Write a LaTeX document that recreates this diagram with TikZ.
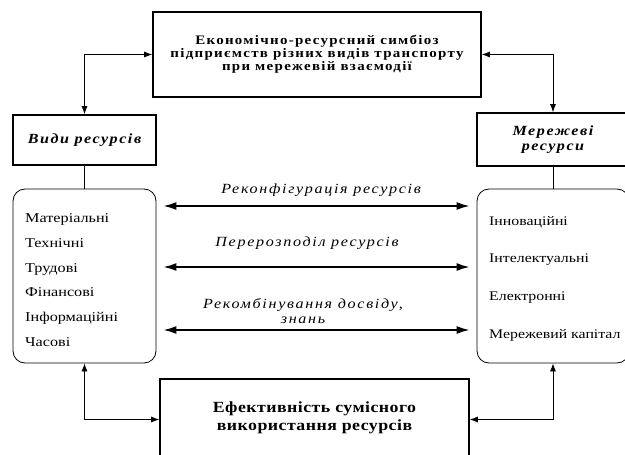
\documentclass[tikz,border=0pt]{standalone}
\usepackage{fontspec}
\setmainfont{Liberation Serif}
\newfontfamily\listfont[FakeStretch=1.2]{Liberation Serif}
\newfontfamily\titlefont[FakeStretch=1.15,LetterSpace=10]{Liberation Serif}
\newfontfamily\efffont[FakeStretch=1.15,LetterSpace=3]{Liberation Serif}
\newfontfamily\headfont[FakeStretch=1.15,LetterSpace=11]{Liberation Serif}
\newfontfamily\labelfont[FakeStretch=1.15,LetterSpace=12]{Liberation Serif}
\usetikzlibrary{arrows.meta}

\tikzset{
  mainbox/.style={draw, line width=1.6pt, align=center},
  headbox/.style={draw, line width=1.6pt, align=center,
    font=\headfont\bfseries\itshape\fontsize{14}{15}\selectfont},
  listbox/.style={draw, line width=0.8pt, rounded corners=12pt},
  items/.style={anchor=west, align=left, inner sep=0pt},
  link/.style={line width=0.8pt, {Latex[length=8pt,width=6pt]}-{Latex[length=8pt,width=6pt]}},
  flow/.style={line width=1.8pt, {Latex[length=13pt,width=8pt]}-{Latex[length=13pt,width=8pt]},
    shorten <=7pt, shorten >=7pt},
  flowlabel/.style={font=\labelfont\itshape\fontsize{14}{15}\selectfont, align=center}
}

\begin{document}
\begin{tikzpicture}[x=1pt,y=-1pt]
        \useasboundingbox (0,0) rectangle (625,455);

        % Symbiosis box
        \node[mainbox, minimum width=328pt, minimum height=85pt,
          font=\titlefont\bfseries\fontsize{13}{13}\selectfont] (sym) at (317,54.5)
          {Економічно-ресурсний симбіоз\\підприємств різних видів транспорту\\при мережевій взаємодії};

        % Resource kinds
        \node[headbox, minimum width=143pt, minimum height=50pt] (kinds) at (84.5,140) {Види ресурсів};
        \node[listbox, minimum width=143pt, minimum height=174pt] (kindlist) at (84.5,276) {};
        \node[items, font=\listfont\fontsize{13.5}{24.8}\selectfont] (kinditems) at (25,280)
          {Матеріальні\\Технічні\\Трудові\\Фінансові\\Інформаційні\\Часові};

        % Network resources
        \node[headbox, minimum width=152pt, minimum height=53pt] (net) at (553,139.5) {Мережеві\\ресурси};
        \node[listbox, minimum width=152pt, minimum height=174pt] (netlist) at (553,276) {};
        \node[items, font=\listfont\fontsize{13.2}{37.7}\selectfont] (netitems) at (489,278.5)
          {Інноваційні\\Інтелектуальні\\Електронні\\Мережевий капітал};

        % Efficiency box
        \node[mainbox, minimum width=309pt, minimum height=81pt,
          font=\efffont\bfseries\fontsize{15.5}{18}\selectfont] (eff) at (314.5,419.5)
          {Ефективність сумісного\\використання ресурсів\vspace{3pt}};

        % Links to the boxes
        \draw[link] (kinds.north) |- (sym.west);
        \draw[link] (sym.east) -| (net.north);
        \draw[line width=0.8pt] (kinds.south) -- (kindlist.north);
        \draw[line width=0.8pt] (net.south) -- (netlist.north);
        \draw[link] (kindlist.south) |- (eff.west);
        \draw[link] (netlist.south) |- (eff.east);

        % Exchange between resources
        \draw[flow] (kindlist.east |- 0,206) -- (netlist.west |- 0,206);
        \draw[flow] (kindlist.east |- 0,267) -- (netlist.west |- 0,267);
        \draw[flow] (kindlist.east |- 0,330) -- (netlist.west |- 0,330);
        \node[flowlabel] (reconf) at (321,190) {Реконфігурація ресурсів};
        \node[flowlabel] (redist) at (307,243) {Перерозподіл ресурсів};
        \node[flowlabel] (recomb) at (303,311) {Рекомбінування досвіду,\\знань};
\end{tikzpicture}
\end{document}
